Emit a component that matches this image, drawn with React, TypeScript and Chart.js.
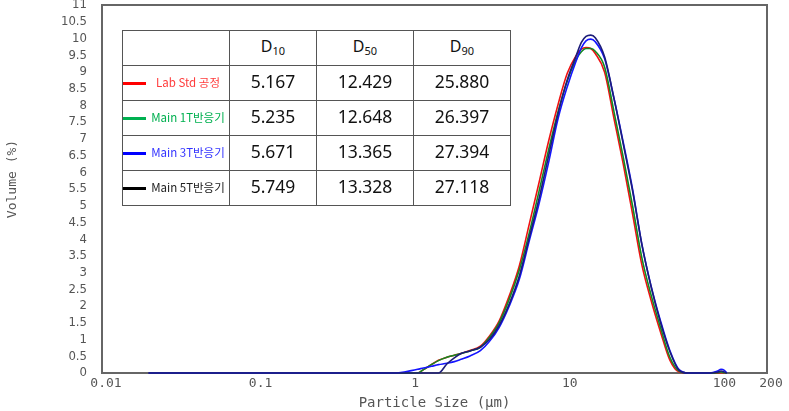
import React, { useEffect, useRef } from "react";
import { Chart, registerables } from "chart.js";

Chart.register(...registerables);

// Particle size grid (µm)
const sizes = [0.02, 0.8, 0.9, 1.0, 1.1, 1.2, 1.35, 1.5, 1.7, 1.9, 2.1, 2.4, 2.8, 3.2, 3.7, 4.3, 5.0, 5.8, 6.7, 7.7, 8.9, 10.2, 11.7, 12.6, 13.5, 14.5, 15.5, 17.8, 20.5, 23.5, 27, 31, 35.5, 41, 47, 54, 62, 85, 95, 101, 106, 110];

// Volume (%) per series
const labStd = [0, 0, 0, 0, 0, 0.1, 0.25, 0.38, 0.47, 0.53, 0.58, 0.67, 0.8, 1.1, 1.55, 2.3, 3.2, 4.45, 5.68, 6.89, 8.02, 8.95, 9.5, 9.68, 9.73, 9.7, 9.55, 9.0, 7.6, 6.25, 4.76, 3.24, 2.19, 1.22, 0.39, 0.03, 0, 0, 0, 0.01, 0, 0];
const main1T = [0, 0, 0, 0, 0, 0.1, 0.25, 0.37, 0.47, 0.53, 0.58, 0.66, 0.77, 1.06, 1.5, 2.2, 3.08, 4.19, 5.42, 6.63, 7.8, 8.72, 9.38, 9.6, 9.7, 9.7, 9.62, 9.15, 7.8, 6.45, 5.0, 3.45, 2.35, 1.35, 0.48, 0.06, 0, 0, 0.01, 0.03, 0.01, 0];
const main3T = [0, 0, 0.03, 0.07, 0.11, 0.15, 0.2, 0.25, 0.29, 0.34, 0.41, 0.51, 0.67, 0.94, 1.36, 2.0, 2.8, 3.95, 5.05, 6.25, 7.6, 8.55, 9.35, 9.72, 9.93, 9.98, 9.9, 9.4, 8.2, 6.9, 5.5, 3.85, 2.62, 1.55, 0.68, 0.1, 0, 0, 0.05, 0.11, 0.08, 0];
const main5T = [0, 0, 0, 0, 0, 0, 0, 0, 0.27, 0.45, 0.58, 0.66, 0.77, 1.0, 1.42, 2.06, 2.9, 4.05, 5.2, 6.45, 7.75, 8.75, 9.5, 9.88, 10.06, 10.1, 10.02, 9.45, 8.2, 6.85, 5.45, 3.85, 2.6, 1.5, 0.65, 0.08, 0, 0, 0.02, 0.06, 0.03, 0];

const seriesNames = ["Lab Std 공정", "Main 1T반응기", "Main 3T반응기", "Main 5T반응기"];
const d10 = ["5.167", "5.235", "5.671", "5.749"];
const d50 = ["12.429", "12.648", "13.365", "13.328"];
const d90 = ["25.880", "26.397", "27.394", "27.118"];

const xTicks = [0.01, 0.1, 1, 10, 100, 200];
const xTickLabels = ["0.01", "0.1", "1", "10", "100", "200"];
const yMin = 0;
const yMax = 11;
const yStep = 0.5;

const lineColors = ["#ee1111", "#118a22", "#1414ff", "#1c1c78"];
const legendLineColors = ["#ff0000", "#00b050", "#0000ff", "#000000"];
const legendTextColors = ["#ff3b3b", "#00b050", "#3333ff", "#222222"];

const axisFontMono = "'DejaVu Sans Mono', monospace";

const framePlugin = {
  id: "frame",
  beforeDatasetsDraw(chart: any) {
    const { ctx, chartArea } = chart;
    const { left, top, right, bottom } = chartArea;
    ctx.save();
    ctx.strokeStyle = "#666";
    ctx.lineWidth = 2;
    ctx.strokeRect(left, top, right - left, bottom - top);
    ctx.restore();
  },
  afterDraw(chart: any) {
    const { ctx, chartArea } = chart;
    const { left, top, right, bottom } = chartArea;
    ctx.save();
    ctx.fillStyle = "#555";
    ctx.textAlign = "center";
    ctx.textBaseline = "middle";
    ctx.font = `14px ${axisFontMono}`;
    ctx.fillText("Particle Size (µm)", (left + right) / 2, bottom + 30);
    ctx.translate(left - 89, (top + bottom) / 2 - 10);
    ctx.rotate(-Math.PI / 2);
    ctx.font = `13px ${axisFontMono}`;
    ctx.fillText("Volume (%)", 0, 0);
    ctx.restore();
  },
};

function ChartCanvas() {
  const ref = useRef<HTMLCanvasElement | null>(null);
  useEffect(() => {
    if (!ref.current) return;
    const series = [labStd, main1T, main3T, main5T];
    const datasets = series.map((arr, i) => ({
      label: seriesNames[i],
      data: sizes.map((x, j) => ({ x, y: arr[j] })),
      borderColor: lineColors[i],
      backgroundColor: lineColors[i],
      borderWidth: 1.6,
      pointRadius: 0,
      cubicInterpolationMode: "monotone" as const,
      fill: false,
      clip: false as any,
      order: 4 - i,
    }));
    const chart = new Chart(ref.current, {
      type: "line",
      data: { datasets },
      options: {
        animation: false,
        responsive: false,
        devicePixelRatio: 1,
        layout: { padding: { left: 0, right: 22, top: 5, bottom: 0 } },
        plugins: { legend: { display: false }, tooltip: { enabled: false } },
        scales: {
          x: {
            type: "logarithmic",
            min: xTicks[0],
            max: xTicks[xTicks.length - 1],
            afterBuildTicks: (s: any) => {
              s.ticks = xTicks.map((v) => ({ value: v }));
            },
            afterFit: (s: any) => {
              s.height = 38;
              s.paddingLeft = 0;
              s.paddingRight = 0;
            },
            grid: { display: false, drawTicks: false },
            border: { display: false },
            ticks: {
              autoSkip: false,
              maxRotation: 0,
              padding: 3,
              labelOffset: 4,
              color: "#555",
              font: { family: axisFontMono, size: 13 },
              callback: (v: any) => {
                const idx = xTicks.findIndex((t) => Math.abs(t - Number(v)) < t * 1e-6);
                return idx >= 0 ? xTickLabels[idx] : "";
              },
            },
          },
          y: {
            min: yMin,
            max: yMax,
            afterFit: (s: any) => {
              s.width = 102;
              s.paddingTop = 0;
              s.paddingBottom = 0;
            },
            grid: { display: false, drawTicks: false },
            border: { display: false },
            ticks: {
              stepSize: yStep,
              autoSkip: false,
              padding: 15,
              color: "#555",
              font: { family: "'Liberation Sans Narrow', 'DejaVu Sans Condensed', 'Liberation Sans', sans-serif", size: 13 },
              callback: (v: any) => String(v),
            },
          },
        },
      },
      plugins: [framePlugin],
    });
    return () => chart.destroy();
  }, []);
  return <canvas ref={ref} width={789} height={411} style={{ width: 789, height: 411, display: "block" }} />;
}

const colW = [107, 87, 97, 97];
const rowH = 35;
const lineCol = "#555";

function StatsTable() {
  const headers = ["10", "50", "90"];
  const cell = (extra: React.CSSProperties = {}): React.CSSProperties => ({
    boxSizing: "border-box",
    borderRight: `1px solid ${lineCol}`,
    borderBottom: `1px solid ${lineCol}`,
    height: rowH,
    display: "flex",
    alignItems: "center",
    justifyContent: "center",
    position: "relative",
    background: "#fff",
    ...extra,
  });
  return (
    <div
      style={{
        position: "absolute",
        left: 122,
        top: 30,
        display: "grid",
        gridTemplateColumns: colW.map((w) => `${w}px`).join(" "),
        gridTemplateRows: `repeat(5, ${rowH}px)`,
        borderLeft: `1px solid ${lineCol}`,
        borderTop: `1px solid ${lineCol}`,
        fontFamily: "'Noto Sans', 'Noto Sans CJK KR', sans-serif",
        color: "#111",
      }}
    >
      <div style={cell()} />
      {headers.map((h) => (
        <div key={h} style={cell({ fontSize: 16, paddingBottom: 3 })}>
          <span>
            D<sub style={{ fontSize: 11, verticalAlign: "-3px" }}>{h}</sub>
          </span>
        </div>
      ))}
      {seriesNames.map((name, i) => (
        <React.Fragment key={name}>
          <div style={cell({ justifyContent: "flex-start" })}>
            <div
              style={{
                position: "absolute",
                left: 0,
                top: 16,
                width: 23,
                height: 2.5,
                background: legendLineColors[i],
              }}
            />
            <div
              style={{
                position: "absolute",
                left: 24,
                right: 0,
                top: 0,
                bottom: 2,
                display: "flex",
                alignItems: "center",
                justifyContent: "center",
                fontSize: 11.5,
                color: legendTextColors[i],
                whiteSpace: "nowrap",
                fontFamily: "'Noto Sans CJK KR', 'Noto Sans', sans-serif",
              }}
            >
              {name}
            </div>
          </div>
          <div style={cell({ fontSize: 17.5, paddingBottom: 4 })}>{d10[i]}</div>
          <div style={cell({ fontSize: 17.5, paddingBottom: 4 })}>{d50[i]}</div>
          <div style={cell({ fontSize: 17.5, paddingBottom: 4 })}>{d90[i]}</div>
        </React.Fragment>
      ))}
    </div>
  );
}

export default function App() {
  return (
    <div style={{ position: "fixed", left: 0, top: 0, width: 789, height: 411, background: "#fff" }}>
      <ChartCanvas />
      <StatsTable />
    </div>
  );
}
